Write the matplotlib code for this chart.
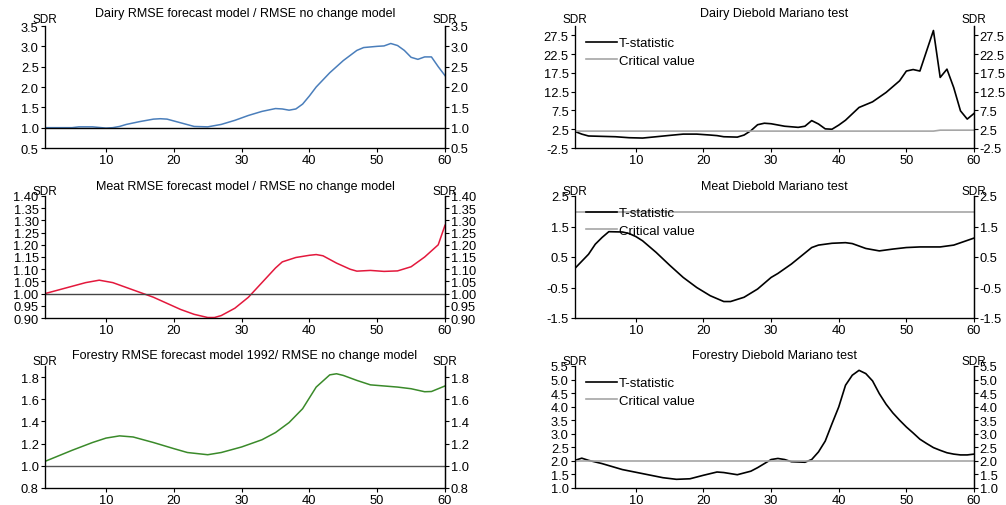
import matplotlib
matplotlib.use("Agg")
import matplotlib.pyplot as plt
import numpy as np

plt.rcParams["font.family"] = ["Liberation Sans", "DejaVu Sans"]
plt.rcParams["font.size"] = 8

# ratio panels (left column)
dairy_x = [1, 3, 5, 6, 8, 10, 11, 12, 13, 15, 17, 18, 19, 21, 23, 25, 27, 29, 31, 33, 35, 36, 37, 38, 39, 40,
           41, 43, 45, 47, 48, 50, 51, 52, 53, 54, 55, 56, 57, 58, 59, 60]
dairy_ratio = [1.0, 1.0, 1.0, 1.02, 1.02, 0.99, 1.0, 1.03, 1.08, 1.15, 1.21, 1.22, 1.21, 1.12, 1.03, 1.02,
               1.08, 1.18, 1.3, 1.4, 1.47, 1.46, 1.43, 1.46, 1.58, 1.78, 2.0, 2.35, 2.65, 2.9, 2.97, 3.0,
               3.01, 3.07, 3.02, 2.9, 2.73, 2.68, 2.74, 2.74, 2.5, 2.28]

meat_x = [1, 3, 5, 7, 9, 11, 13, 15, 17, 19, 21, 23, 25, 26, 27, 29, 31, 33, 35, 36, 38, 40, 41, 42, 44,
          46, 47, 49, 51, 53, 55, 57, 59, 60]
meat_ratio = [1.0, 1.015, 1.03, 1.045, 1.055, 1.045, 1.025, 1.005, 0.985, 0.96, 0.935, 0.915, 0.902,
              0.902, 0.91, 0.94, 0.985, 1.045, 1.105, 1.13, 1.148, 1.157, 1.16, 1.155, 1.125, 1.1, 1.092,
              1.095, 1.091, 1.093, 1.11, 1.15, 1.2, 1.28]

forestry_x = [1, 5, 8, 10, 12, 14, 17, 20, 22, 25, 27, 30, 33, 35, 37, 39, 41, 43, 44, 45, 47, 49, 51, 53,
              55, 57, 58, 60]
forestry_ratio = [1.04, 1.14, 1.21, 1.25, 1.27, 1.26, 1.21, 1.155, 1.12, 1.1, 1.12, 1.17, 1.235, 1.3,
                  1.39, 1.515, 1.71, 1.82, 1.83, 1.815, 1.77, 1.73, 1.72, 1.71, 1.695, 1.668, 1.67, 1.72]

# Diebold Mariano panels (right column)
dairy_dm_x = [1, 2, 3, 5, 7, 9, 11, 13, 15, 17, 19, 21, 22, 23, 25, 26, 27, 28, 29, 30, 32, 34, 35, 36,
              37, 38, 39, 40, 41, 43, 45, 47, 49, 50, 51, 52, 54, 55, 56, 57, 58, 59, 60]
dairy_dm = [1.9, 1.2, 0.7, 0.6, 0.5, 0.24, 0.15, 0.5, 0.86, 1.2, 1.2, 0.95, 0.8, 0.5, 0.4, 0.95, 2.1, 3.7,
            4.1, 3.96, 3.3, 3.0, 3.3, 4.8, 3.9, 2.6, 2.5, 3.6, 4.9, 8.3, 9.8, 12.3, 15.4, 18.0, 18.4, 18.0,
            28.8, 16.3, 18.5, 13.6, 7.4, 5.2, 6.7]
dairy_crit_x = [1, 54, 55, 60]
dairy_crit = [2.0, 2.0, 2.25, 2.25]

meat_dm_x = [1, 3, 4, 5, 6, 8, 9, 10, 11, 13, 15, 17, 19, 21, 23, 24, 26, 28, 30, 31, 33, 35, 36, 37, 39,
             41, 42, 44, 46, 48, 50, 52, 55, 57, 60]
meat_dm = [0.13, 0.59, 0.92, 1.14, 1.33, 1.32, 1.27, 1.17, 1.03, 0.65, 0.23, -0.17, -0.5, -0.77, -0.96,
           -0.96, -0.82, -0.55, -0.17, -0.04, 0.27, 0.63, 0.81, 0.89, 0.95, 0.97, 0.94, 0.78, 0.7, 0.76,
           0.81, 0.83, 0.83, 0.89, 1.12]
meat_crit_x = [1, 60]
meat_crit = [1.99, 1.99]

forestry_dm_x = [1, 2, 3, 5, 8, 11, 14, 16, 18, 20, 22, 23, 25, 27, 28, 30, 31, 32, 33, 35, 36, 37, 38,
                 39, 40, 41, 42, 43, 44, 45, 46, 47, 48, 49, 50, 51, 52, 53, 54, 55, 56, 57, 58, 59, 60]
forestry_dm = [2.02, 2.1, 2.02, 1.9, 1.68, 1.53, 1.38, 1.32, 1.34, 1.47, 1.59, 1.57, 1.49, 1.62, 1.75,
               2.05, 2.09, 2.05, 1.97, 1.95, 2.05, 2.33, 2.73, 3.37, 3.99, 4.79, 5.16, 5.34, 5.22, 4.95,
               4.48, 4.09, 3.77, 3.5, 3.25, 3.03, 2.8, 2.64, 2.49, 2.39, 2.3, 2.25, 2.22, 2.22, 2.25]
forestry_crit_x = [1, 60]
forestry_crit = [1.99, 1.99]

fig = plt.figure(figsize=(10.06, 5.06), dpi=100)

W, H = 1006, 506
AX_H = 122  # axes height in pixels


def make_axes(left_px, top_px, right_px, bottom_px):
    return fig.add_axes([left_px / W, 1 - bottom_px / H, (right_px - left_px) / W, (bottom_px - top_px) / H])


def style(ax, ylim, ticks, fmt, title, title_off=12, sdr_off=7):
    ax.set_xlim(1, 60)
    ax.set_ylim(*ylim)
    ax.set_xticks([10, 20, 30, 40, 50, 60])
    ax.set_yticks(ticks)
    ax.set_yticklabels([fmt.format(t) for t in ticks])
    ax.spines["top"].set_visible(False)
    for s in ["left", "bottom", "right"]:
        ax.spines[s].set_linewidth(0.9)
    ax.tick_params(direction="out", length=3, width=0.8, labelsize=9.3, pad=1.5)
    ax2 = ax.twinx()
    ax2.set_ylim(*ylim)
    ax2.set_yticks(ticks)
    ax2.set_yticklabels([fmt.format(t) for t in ticks])
    ax2.spines["top"].set_visible(False)
    ax2.spines["right"].set_linewidth(0.9)
    ax2.tick_params(direction="out", length=3, width=0.8, labelsize=9.3, pad=1)
    ax.text(0.5, 1.0 + title_off / AX_H, title, transform=ax.transAxes, ha="center", va="center",
            fontsize=9)
    ax.text(0.0, 1.0 + sdr_off / AX_H, "SDR", transform=ax.transAxes, ha="center", va="center", fontsize=8.5)
    ax.text(1.0, 1.0 + sdr_off / AX_H, "SDR", transform=ax.transAxes, ha="center", va="center", fontsize=8.5)


rows = [(27, 149), (197, 319), (367, 489)]
offsets = [(13, 7), (10, 5), (11, 5)]

# left column
ax = make_axes(45, 27, 445, 149)
ax.plot(dairy_x, dairy_ratio, color="#4a7ebb", lw=1.1)
ax.axhline(1.0, color="black", lw=1.0)
style(ax, (0.5, 3.5), [0.5, 1.0, 1.5, 2.0, 2.5, 3.0, 3.5], "{:.1f}",
      "Dairy RMSE forecast model / RMSE no change model", *offsets[0])

ax = make_axes(45, 197, 445, 319)
ax.plot(meat_x, meat_ratio, color="#e3183c", lw=1.1)
ax.axhline(1.0, color="#444444", lw=1.0)
style(ax, (0.9, 1.4), list(np.round(np.arange(0.9, 1.401, 0.05), 2)), "{:.2f}",
      "Meat RMSE forecast model / RMSE no change model", *offsets[1])

ax = make_axes(45, 367, 445, 489)
ax.plot(forestry_x, forestry_ratio, color="#3a8a2a", lw=1.1)
ax.axhline(1.0, color="#555555", lw=1.0)
style(ax, (0.8, 1.9), [0.8, 1.0, 1.2, 1.4, 1.6, 1.8], "{:.1f}",
      "Forestry RMSE forecast model 1992/ RMSE no change model", *offsets[2])

# right column
panels = [
    (dairy_dm_x, dairy_dm, dairy_crit_x, dairy_crit, (-2.5, 30), [-2.5, 2.5, 7.5, 12.5, 17.5, 22.5, 27.5],
     "Dairy Diebold Mariano test"),
    (meat_dm_x, meat_dm, meat_crit_x, meat_crit, (-1.5, 2.5), [-1.5, -0.5, 0.5, 1.5, 2.5],
     "Meat Diebold Mariano test"),
    (forestry_dm_x, forestry_dm, forestry_crit_x, forestry_crit, (1.0, 5.5),
     [1.0, 1.5, 2.0, 2.5, 3.0, 3.5, 4.0, 4.5, 5.0, 5.5], "Forestry Diebold Mariano test"),
]
for i, (tx, ty, cx, cy, ylim, ticks, title) in enumerate(panels):
    top, bottom = rows[i]
    ax = make_axes(575, top, 974, bottom)
    ax.plot(tx, ty, color="black", lw=1.2, label="T-statistic")
    ax.plot(cx, cy, color="#a6a6a6", lw=1.2, label="Critical value")
    style(ax, ylim, ticks, "{:.1f}", title, *offsets[i])
    ax.legend(loc="upper left", bbox_to_anchor=(0.0, 0.995), frameon=False, fontsize=9.5,
              handlelength=2.4, handletextpad=0.15, labelspacing=0.4, borderaxespad=0.4)

fig.savefig("out.png", dpi=100)
